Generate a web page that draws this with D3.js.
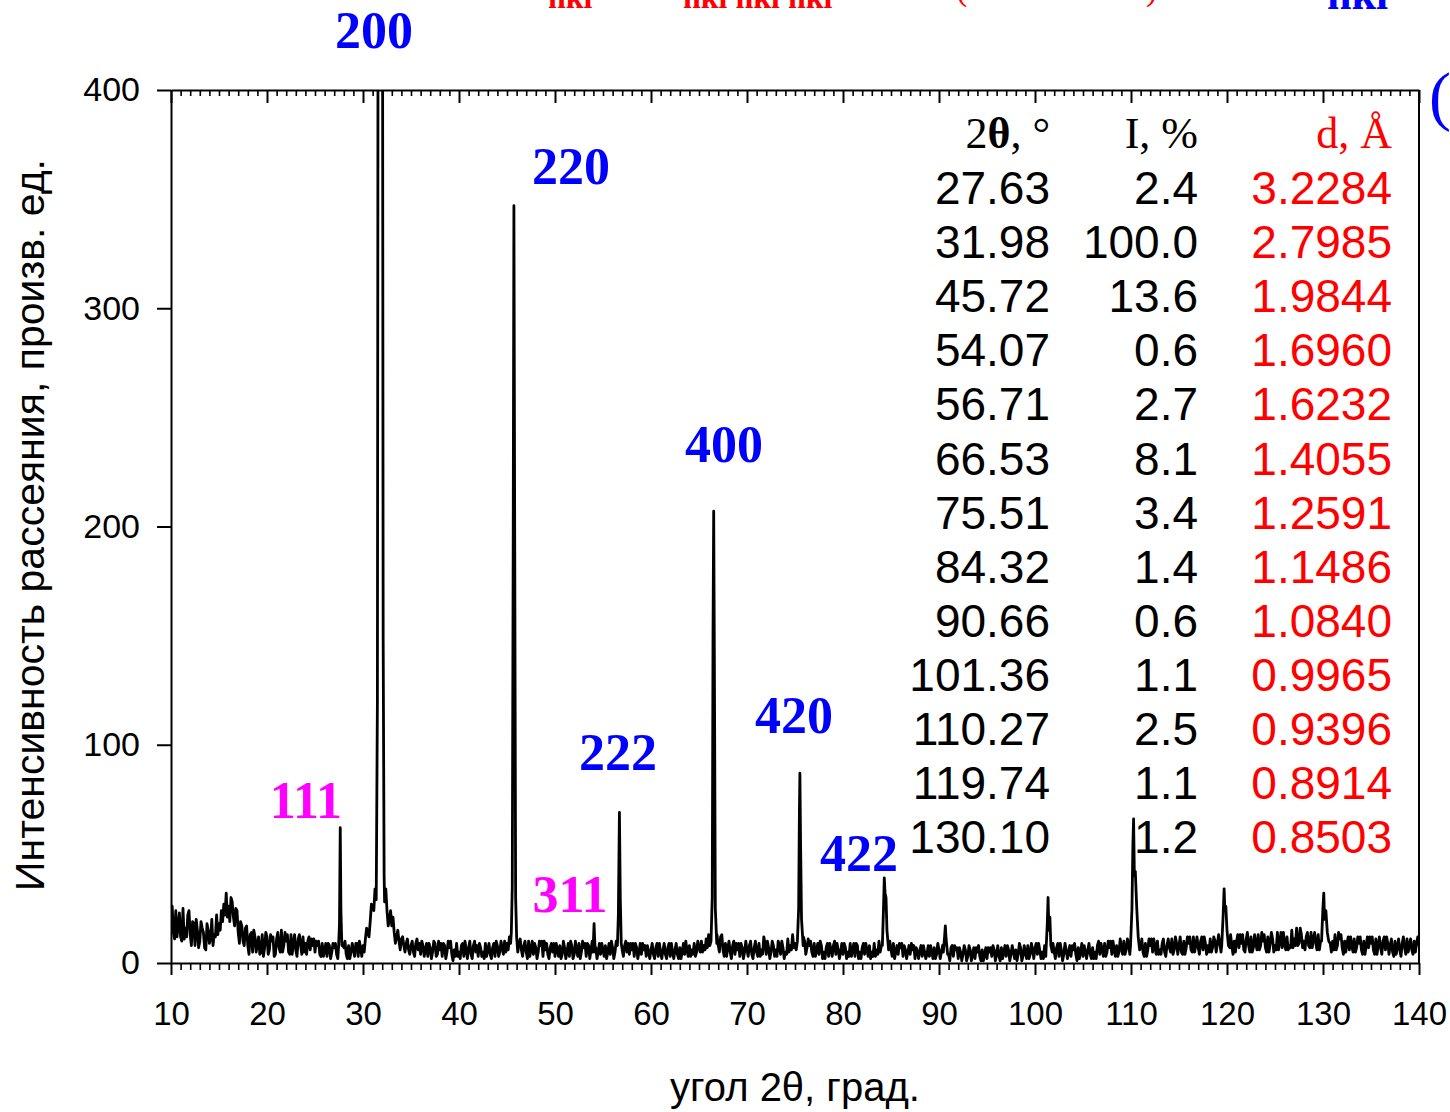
<!DOCTYPE html>
<html><head><meta charset="utf-8">
<script src="https://cdn.jsdelivr.net/npm/d3@7"></script>
<style>body{margin:0;background:#fff}svg{display:block}</style>
</head><body><svg id="c" width="1450" height="1112"></svg>
<script>
// ---------- DATA ----------
// measured background, 2θ = 10, 10.25, ..., 140 (step 0.25°)
const bgStart = 10, bgStep = 0.25;
const background = [
 20,14,24,17, 12,25,16,22, 13,19,8,15, 10,16,7,18, 9,20,13,22, 18,24,27,32, 26,30,21,25, 14,19,10,16, 8,13,5,12, 9,4,13,7,
 12,6,10,3, 11,7,15,8, 10,5,13,9, 6,11,8,12, 9,10,6,8, 5,8,4,9, 6,3,8,5, 7,4,6,5, 7,4,8,5, 6,9,3,7,
 8,11,14,19, 26,34,40,38, 40,28,24,20, 17,14,12,10, 11,8,9,6, 8,5,9,6, 4,8,6,3, 7,5,9,4, 6,3,8,5, 7,4,6,9,
 5,8,3,6, 7,4,8,5, 3,7,5,9, 6,4,7,3, 8,5,7,10, 9,12,20,30, 12,9,6,8, 5,10,6,4, 7,5,8,3, 6,4,7,5,
 3,6,8,4, 7,5,3,8, 4,6,9,5, 7,3,8,6, 6,7,5,4, 6,8,5,4, 7,5,8,9, 6,8,5,4, 6,3,7,5, 4,6,3,5,
 6,4,7,3, 5,6,4,7, 3,5,6,4, 7,5,4,6, 8,6,9,5, 7,10,8,11, 13,9,9,9, 8,12,6,9, 7,5,8,4, 6,3,7,5,
 6,8,4,7, 5,9,6,12, 4,7,5,8, 6,10,4,7, 5,11,8,13, 9,9,9,9, 10,7,8,5, 9,6,4,8, 5,7,3,6, 8,4,6,5,
 4,7,5,9, 6,3,8,5, 7,4,6,8, 5,9,6,10, 8,8,8,7, 6,9,5,4, 7,3,6,5, 4,6,2,5, 6,3,5,4, 3,5,7,4,
 6,5,5,5, 4,7,3,6, 2,5,4,6, 3,6,4,2, 5,3,6,4, 2,5,3,6, 4,3,7,5, 3,6,4,5, 6,4,7,3, 5,8,4,6,
 7,4,6,5, 8,6,6,6, 5,7,3,6, 4,6,5,3, 6,4,7,5, 3,5,6,4, 7,5,8,4, 6,9,5,7, 4,6,8,5, 7,10,6,9,
 8,8,8,8, 7,5,9,6, 8,5,7,10, 6,9,5,8, 7,11,6,9, 8,5,10,7, 9,6,12,8, 7,10,6,9, 8,11,7,10, 9,9,9,9,
 8,8,8,10, 10,7,9,6, 11,8,12,7, 9,13,8,10, 7,12,9,11, 8,14,10,7, 9,12,8,15, 11,16,9,13, 10,12,8,14, 11,9,13,10,
 9,9,9,10, 10,13,8,11, 7,10,9,6, 8,11,7,9, 6,10,8,7, 9,6,11,8, 7,10,6,9, 8,5,10,7, 6,9,7,11, 8,6,10,9,
 8
];
// measured background at the half steps, 2θ = 10.125, 10.375, ..., 139.875
const backgroundHalf = [
 26,11,12,23, 10,11,12,24, 8,18,20,7, 19,14,6,15, 11,8,12,13, 15,19,22,21, 19,28,17,24, 9,17,8,17, 4,14,15,5, 12,5,3,14,
 4,13,12,4, 14,5,5,14, 13,4,4,13, 3,13,4,5, 4,12,11,11, 10,10,3,3, 9,9,2,9, 9,2,6,9, 10,2,2,9, 3,9,10,3,
 5,16,12,27, 24,29,40,40, 40,34,17,24, 21,9,15,6, 12,5,11,4, 10,3,11,9, 10,3,9,9, 2,10,3,10, 9,9,2,10, 10,1,3,3,
 2,9,10,2, 10,2,10,8, 9,3,2,3, 9,2,9,10, 3,10,4,5, 6,9,25,40, 5,11,3,10, 2,3,10,9, 2,10,10,10, 9,2,9,9,
 9,3,2,10, 2,9,10,2, 10,3,2,10, 9,9,2,10, 10,2,9,9, 3,2,9,10, 2,10,20,12, 3,10,9,9, 9,9,2,9, 9,8,8,2,
 9,2,9,9, 2,9,2,9, 9,2,9,2, 2,9,10,3, 3,4,3,10, 5,5,6,7, 8,14,50,13, 5,13,3,3, 10,2,10,9, 9,9,2,10,
 3,10,2,10, 3,3,4,9, 10,2,10,3, 3,8,10,2, 4,5,6,7, 6,20,30,12, 4,11,10,3, 3,9,10,2, 2,9,9,3, 10,9,2,9,
 9,2,3,3, 9,9,2,2, 9,9,3,2, 3,3,4,5, 20,20,20,10, 3,2,8,9, 9,8,2,8, 9,8,7,2, 8,8,2,8, 8,2,2,9,
 2,8,10,6, 1,8,8,7, 7,1,8,1, 8,1,7,7, 8,1,1,7, 7,7,8,1, 8,1,2,8, 8,1,8,2, 1,9,1,8, 2,2,9,2,
 9,9,2,2, 3,10,10,9, 2,9,9,1, 9,2,8,8, 9,1,2,9, 8,2,9,2, 2,2,10,9, 3,3,10,10, 10,3,3,11, 4,4,11,4,
 10,10,10,10, 11,3,3,11, 11,11,4,4, 4,11,3,11, 5,4,12,4, 12,4,4,12, 12,5,5,12, 4,12,12,4, 5,5,12,5, 13,5,10,10,
 10,13,4,5, 13,13,13,5, 14,5,5,13, 6,6,14,13, 5,5,14,5, 6,6,14,14, 6,6,7,7, 8,8,16,7, 6,14,7,7, 14,6,6,14,
 14,14,14,5, 6,6,14,13, 4,5,12,12, 5,5,12,12, 4,4,12,12, 12,4,4,12, 4,12,12,4, 11,3,4,11, 3,12,4,5, 11,4,5,12
];
// measured peak profiles: [2θ, intensity]
const peak111 = [[27.45,7],[27.55,18],[27.63,62],[27.7,24],[27.8,8]];
const peak200 = [[31.4,45],[31.5,120],[31.6,600],[31.8,2500],[32.0,600],[32.1,150],[32.2,40]];
const peak220 = [[45.45,14],[45.55,35],[45.65,200],[45.72,347],[45.8,200],[45.9,30],[46.0,12]];
const peak311 = [[53.95,5],[54.02,12],[54.07,18],[54.13,11],[54.2,5]];
const peak222 = [[56.5,8],[56.6,22],[56.71,69],[56.8,30],[56.9,9]];
const peak400 = [[66.25,10],[66.38,30],[66.46,150],[66.53,207],[66.6,140],[66.7,25],[66.85,9]];
const peak420 = [[75.25,10],[75.38,25],[75.46,70],[75.51,87],[75.58,55],[75.68,20],[75.85,8]];
const peak422 = [[84.1,8],[84.22,25],[84.3,39],[84.38,32],[84.48,30],[84.58,15],[84.75,6]];
const peak9066 = [[90.45,5],[90.58,12],[90.66,17],[90.74,11],[90.9,4]];
const peak10136 = [[101.15,6],[101.28,18],[101.36,30],[101.45,15],[101.55,21],[101.65,8],[101.8,5]];
const peak11027 = [[109.95,8],[110.1,25],[110.2,55],[110.27,66],[110.35,40],[110.45,42],[110.6,25],[110.75,12],[110.9,6]];
const peak11974 = [[119.45,8],[119.6,22],[119.7,34],[119.78,24],[119.88,26],[120.0,15],[120.15,8],[120.3,7]];
const peak13010 = [[129.85,10],[129.98,24],[130.08,32],[130.16,20],[130.3,24],[130.45,14],[130.6,10],[130.75,9]];
const peakProfiles = [peak111,peak200,peak220,peak311,peak222,peak400,peak420,peak422,peak9066,peak10136,peak11027,peak11974,peak13010];

// hkl labels and their anchor (2θ, intensity of text baseline)
const hklLabels = ["200","220","400","420","222","111","311","422"];
const hklColor  = ["blue","blue","blue","blue","blue","magenta","magenta","blue"];
const hklTheta  = [31.15, 51.67, 67.6, 74.9, 56.56, 24.06, 51.56, 81.67];
const hklInt    = [419.2, 356.9, 229.6, 105.4, 88.4, 66.4, 23.4, 42.2];

// table
const tableTheta = ["27.63","31.98","45.72","54.07","56.71","66.53","75.51","84.32","90.66","101.36","110.27","119.74","130.10"];
const tableI     = ["2.4","100.0","13.6","0.6","2.7","8.1","3.4","1.4","0.6","1.1","2.5","1.1","1.2"];
const tableD     = ["3.2284","2.7985","1.9844","1.6960","1.6232","1.4055","1.2591","1.1486","1.0840","0.9965","0.9396","0.8914","0.8503"];

// axes
const xTicks = [10,20,30,40,50,60,70,80,90,100,110,120,130,140];
const yTicks = [0,100,200,300,400];
const xTitle = "угол 2θ, град.";
const yTitle = "Интенсивность рассеяния, произв. ед.";

// ---------- DRAW ----------
const sans = "'Liberation Sans', Arial, sans-serif";
const serif = "'Liberation Serif', 'Times New Roman', serif";
const L=171, R=1419, T=90, B=963;
const x = d3.scaleLinear().domain([10,140]).range([L,R]);
const y = d3.scaleLinear().domain([0,400]).range([B,T]);
const svg = d3.select("#c");

// text fragments cut by the top edge of the picture (as in the original)
const topG = svg.append("g").attr("font-family",serif).attr("font-weight","bold");
topG.append("text").attr("x",548).attr("y",8).attr("font-size",32).attr("fill","#ff0000").text("hkl");
topG.append("text").attr("x",683).attr("y",8).attr("font-size",32).attr("fill","#ff0000").text("hkl hkl hkl");
topG.append("text").attr("x",956).attr("y",0).attr("font-size",34).attr("font-weight","normal").attr("fill","#ff0000").text("(");
topG.append("text").attr("x",1146).attr("y",0).attr("font-size",34).attr("font-weight","normal").attr("fill","#ff0000").text(")");
topG.append("text").attr("x",1327).attr("y",9).attr("font-size",44).attr("fill","#0000ff").text("hkl");
svg.append("text").attr("x",1429).attr("y",118).attr("font-family",serif).attr("font-size",66).attr("fill","#0000ff").text("(");

// spectrum
const bgPts = background.map((v,i)=>[bgStart+i*bgStep, v])
  .concat(backgroundHalf.map((v,i)=>[bgStart+bgStep/2+i*bgStep, v]));
const ranges = peakProfiles.map(p=>[p[0][0], p[p.length-1][0]]);
const pts = bgPts.filter(([t])=>!ranges.some(([a,b])=>t>=a-1e-9 && t<=b+1e-9))
  .concat(...peakProfiles).sort((a,b)=>a[0]-b[0]);

svg.append("defs").append("clipPath").attr("id","clip")
  .append("rect").attr("x",L).attr("y",T).attr("width",R-L).attr("height",B-T);
svg.append("path").datum(pts).attr("clip-path","url(#clip)")
  .attr("fill","none").attr("stroke","#000").attr("stroke-width",2.8).attr("stroke-linejoin","round")
  .attr("d", d3.line().x(d=>x(d[0])).y(d=>y(d[1])));

function styleAxis(g, w){
  g.selectAll("path.domain").attr("stroke","#000").attr("stroke-width",2);
  g.selectAll(".tick line").attr("stroke","#000").attr("stroke-width",w);
  g.selectAll(".tick text").attr("font-family",sans).attr("font-size",33).attr("fill","#000");
}
const minor = x.ticks(130).filter(v=>!xTicks.includes(v));

// bottom axis
const gb = svg.append("g").attr("transform",`translate(0,${B})`)
  .call(d3.axisBottom(x).tickValues(xTicks).tickSize(12).tickPadding(27).tickSizeOuter(0));
styleAxis(gb,2);
const gbm = svg.append("g").attr("transform",`translate(0,${B})`)
  .call(d3.axisBottom(x).tickValues(minor).tickSize(7).tickFormat(""));
gbm.select("path.domain").remove(); styleAxis(gbm,1.6);

// top axis (inward ticks)
const gt = svg.append("g").attr("transform",`translate(0,${T})`)
  .call(d3.axisTop(x).tickValues(xTicks).tickSize(-13).tickFormat("").tickSizeOuter(0));
styleAxis(gt,2);
const gtm = svg.append("g").attr("transform",`translate(0,${T})`)
  .call(d3.axisTop(x).tickValues(minor).tickSize(-6).tickFormat(""));
gtm.select("path.domain").remove(); styleAxis(gtm,1.6);

// left axis
const gl = svg.append("g").attr("transform",`translate(${L},0)`)
  .call(d3.axisLeft(y).tickValues(yTicks).tickSize(14).tickPadding(17).tickSizeOuter(0));
styleAxis(gl,2);
gl.selectAll(".tick text").attr("font-size",34);

// right frame
svg.append("line").attr("x1",R).attr("x2",R).attr("y1",T).attr("y2",B).attr("stroke","#000").attr("stroke-width",2);

// titles
svg.append("text").attr("x",(L+R)/2).attr("y",1101).attr("text-anchor","middle")
  .attr("font-family",sans).attr("font-size",40).text(xTitle);
svg.append("text").attr("transform","translate(44,525) rotate(-90)").attr("text-anchor","middle")
  .attr("font-family",sans).attr("font-size",41).text(yTitle);

// hkl labels
const colMap = {blue:"#0000ff", magenta:"#ff00ff"};
svg.append("g").selectAll("text").data(hklLabels).join("text")
  .attr("x",(d,i)=>x(hklTheta[i])).attr("y",(d,i)=>y(hklInt[i]))
  .attr("text-anchor","middle").attr("font-family",serif).attr("font-weight","bold")
  .attr("font-size",52).attr("fill",(d,i)=>colMap[hklColor[i]]).text(d=>d);

// table
const tb = svg.append("g");
const colX = [1050,1198,1392];
const rowY0 = 204, rowH = 54.1;
const h1 = tb.append("text").attr("x",colX[0]).attr("y",148).attr("text-anchor","end")
  .attr("font-family",serif).attr("font-size",44);
h1.append("tspan").text("2");
h1.append("tspan").attr("font-weight","bold").text("θ");
h1.append("tspan").text(", °");
tb.append("text").attr("x",colX[1]).attr("y",148).attr("text-anchor","end")
  .attr("font-family",serif).attr("font-size",44).text("I, %");
tb.append("text").attr("x",colX[2]).attr("y",148).attr("text-anchor","end")
  .attr("font-family",serif).attr("font-size",44).attr("fill","#ff0000").text("d, Å");
[[tableTheta,"#000"],[tableI,"#000"],[tableD,"#ff0000"]].forEach(([arr,c],k)=>{
  tb.append("g").selectAll("text").data(arr).join("text")
    .attr("x",colX[k]).attr("y",(d,i)=>rowY0+i*rowH).attr("text-anchor","end")
    .attr("font-family",sans).attr("font-size",46).attr("fill",c).text(d=>d);
});
</script></body></html>
